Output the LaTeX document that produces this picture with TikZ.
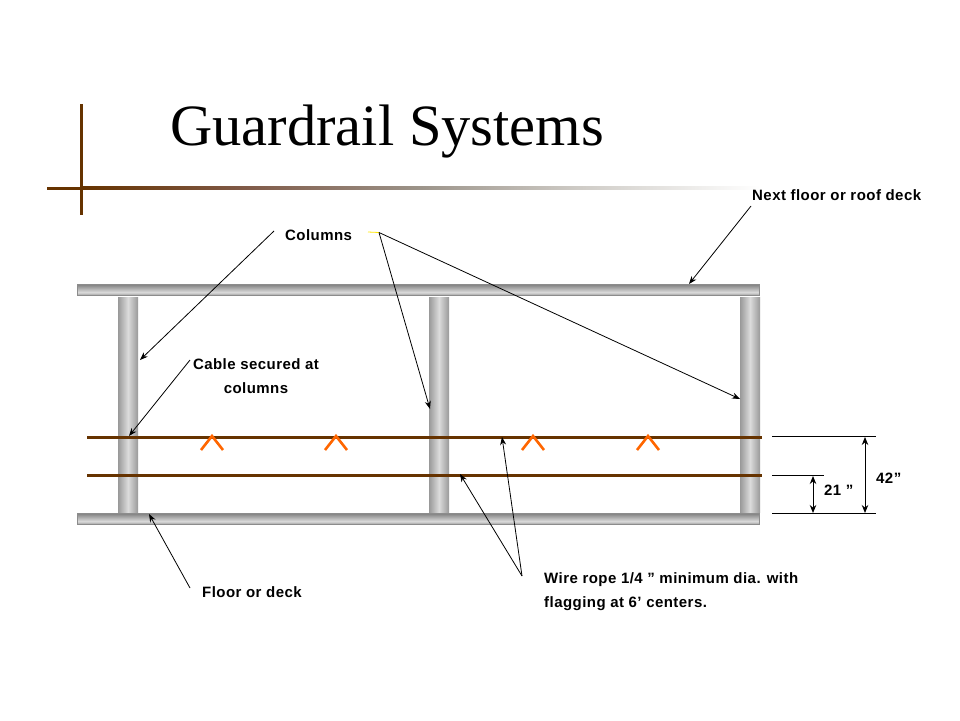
\documentclass[tikz,border=0pt]{standalone}
\usepackage{fontspec}
\setmainfont{Liberation Sans}
\newfontfamily\titlefont{Liberation Serif}
\newfontfamily\labelfont[LetterSpace=3]{Liberation Sans Bold}
\usetikzlibrary{arrows.meta}
\definecolor{rope}{HTML}{663300}
\definecolor{flagc}{HTML}{FF6600}
\definecolor{rulea}{HTML}{805A48}
\definecolor{ruleb}{HTML}{9C948A}
\definecolor{rulec}{HTML}{D0CDC8}
\pgfdeclareverticalshading{beamshade}{100bp}{color(0bp)=(black!42); color(25bp)=(black!42); color(40bp)=(black!14); color(75bp)=(black!50); color(100bp)=(black!50)}
\pgfdeclarehorizontalshading{colshade}{100bp}{color(0bp)=(black!40); color(25bp)=(black!40); color(50bp)=(black!14); color(75bp)=(black!40); color(100bp)=(black!40)}
\pgfdeclarehorizontalshading{ruleshade}{100bp}{color(0bp)=(rope); color(25bp)=(rope); color(37bp)=(rulea); color(50bp)=(ruleb); color(62bp)=(rulec); color(75bp)=(white); color(100bp)=(white)}
\tikzset{
  x=1pt,y=-1pt,
  lbl/.style={font=\labelfont\fontsize{15}{24}\selectfont,inner sep=0pt,text=black},
  beam/.style={draw=black!45,line width=0.6pt,shading=beamshade,minimum width=682pt,minimum height=11.5pt,inner sep=0pt,outer sep=0pt},
  post/.style={shading=colshade,minimum width=20pt,minimum height=215pt,inner sep=0pt,outer sep=0pt},
  cable/.style={draw=rope,line width=3pt},
  flag/.style={draw=flagc,line width=2.6pt},
  leader/.style={draw=black,line width=0.8pt,-{Stealth[length=8pt,width=6pt]}},
  dimline/.style={draw=black,line width=0.9pt},
  dimarrow/.style={draw=black,line width=0.9pt,{Stealth[length=8pt,width=6.5pt]}-{Stealth[length=8pt,width=6.5pt]}},
  rulebar/.style={fill=rope}
}
\begin{document}
\begin{tikzpicture}
\useasboundingbox (0,0) rectangle (960,720);
% title rules
\fill[rulebar] (80,104) rectangle (83,215);
\fill[rulebar] (47,186.5) rectangle (82,189.5);
\shade[shading=ruleshade] (82,186.5) rectangle (760,189.5);
\node[font=\titlefont\fontsize{58.5}{60}\selectfont,anchor=base west,inner sep=0pt] (title) at (170,145) {Guardrail Systems};
% structure
\node[post] (colA) at (128,404.5) {};
\node[post] (colB) at (439,404.5) {};
\node[post] (colC) at (750,404.5) {};
\node[beam] (topbeam) at (418,290) {};
\node[beam] (floorbeam) at (418,519) {};
% ropes
\coordinate (ropeUL) at (87,437); \coordinate (ropeUR) at (762,437);
\coordinate (ropeLL) at (87,475); \coordinate (ropeLR) at (762,475);
\draw[cable] (ropeUL) -- (ropeUR);
\draw[cable] (ropeLL) -- (ropeLR);
% flags
\foreach \n/\c in {a/212,b/336,c/533,d/648}{
  \coordinate (flag\n) at (\c,436);
  \draw[flag] (\c-11,450) -- (flag\n) -- (\c+11,450);
}
% labels
\node[lbl,anchor=west] (lnext) at (752,195.5) {Next floor or roof deck};
\node[lbl,anchor=west] (lcol) at (285,235.5) {Columns};
\node[lbl,align=center] (lcable) at (256,376.5) {Cable secured at\\columns};
\node[lbl,anchor=west] (lfloor) at (202,592.5) {Floor or deck};
\node[lbl,align=left,anchor=west] (lwire) at (544,592) {Wire rope 1/4 ” minimum dia. with\\flagging at 6’ centers.};
\node[lbl,anchor=west] (l21) at (824,490) {21 ”};
\node[lbl,anchor=west] (l42) at (876,478) {42”};
% leader ends
\coordinate (nextS) at (751,206); \coordinate (nextE) at (689,284);
\coordinate (colS) at (274,231); \coordinate (colE) at (140,360);
\coordinate (colY) at (368,232); \coordinate (colF) at (379,232.5);
\coordinate (colEb) at (430,409); \coordinate (colEc) at (740,399);
\coordinate (cabS) at (190,360); \coordinate (cabE) at (129,436);
\coordinate (floS) at (190,588); \coordinate (floE) at (149,514);
\coordinate (wirS) at (522,576); \coordinate (wirEa) at (502,437); \coordinate (wirEb) at (460,474);
\draw[leader] (nextS) -- (nextE);
\draw[leader] (colS) -- (colE);
\draw[draw=yellow!90!orange,line width=0.8pt] (colY) -- (colF);
\draw[leader] (colF) -- (colEb);
\draw[leader] (colF) -- (colEc);
\draw[leader] (cabS) -- (cabE);
\draw[leader] (floS) -- (floE);
\draw[leader] (wirS) -- (wirEa);
\draw[leader] (wirS) -- (wirEb);
% dimensions
\coordinate (d42a) at (772,436.5); \coordinate (d42b) at (876,436.5);
\coordinate (d21a) at (772,475.5); \coordinate (d21b) at (824,475.5);
\coordinate (d0a) at (772,513.5); \coordinate (d0b) at (876,513.5);
\draw[dimline] (d42a) -- (d42b);
\draw[dimline] (d21a) -- (d21b);
\draw[dimline] (d0a) -- (d0b);
\coordinate (a42t) at (865,437); \coordinate (a42b) at (865,513);
\coordinate (a21t) at (813,476); \coordinate (a21b) at (813,513);
\draw[dimarrow] (a42t) -- (a42b);
\draw[dimarrow] (a21t) -- (a21b);
\end{tikzpicture}
\end{document}
